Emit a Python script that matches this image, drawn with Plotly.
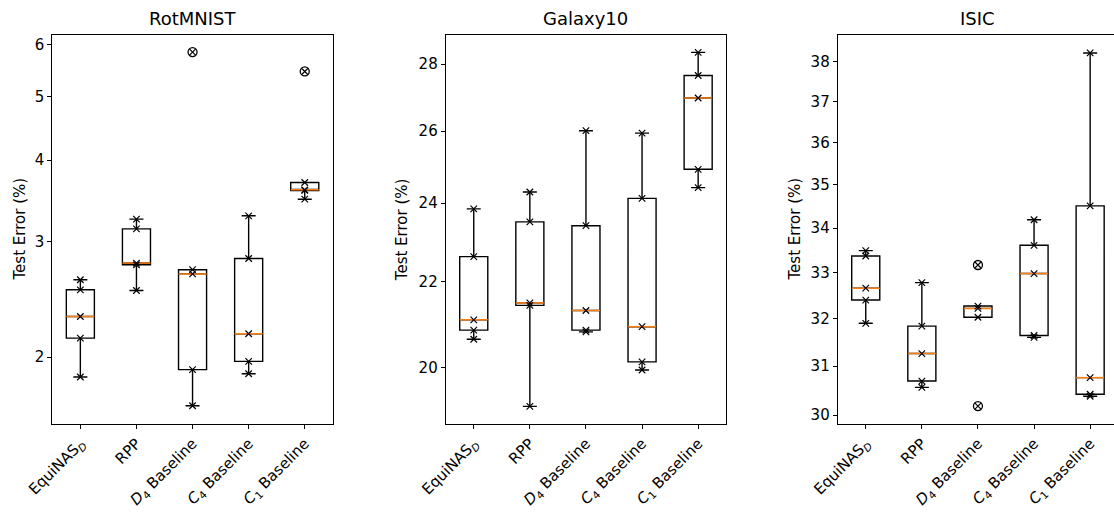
import numpy as np
import plotly.graph_objects as go

W, H = 1114, 514

categories = ["EquiNAS<sub><i>D</i></sub>", "RPP", "<i>D</i><sub>4</sub> Baseline",
              "<i>C</i><sub>4</sub> Baseline", "<i>C</i><sub>1</sub> Baseline"]
positions = [1, 2, 3, 4, 5]

titles = ["RotMNIST", "Galaxy10", "ISIC"]

# Test error (%) per method, 5 runs each
rotmnist = [
    [2.625, 2.534, 2.307, 2.138, 1.864],
    [3.25, 3.14, 2.784, 2.767, 2.528],
    [5.85, 2.72, 2.68, 1.913, 1.685],
    [3.288, 2.829, 2.171, 1.970, 1.886],
    [5.465, 3.697, 3.603, 3.595, 3.486],
]
galaxy10 = [
    [23.85, 22.62, 21.09, 20.85, 20.64],
    [24.30, 23.51, 21.49, 21.43, 19.16],
    [26.01, 23.41, 21.31, 20.85, 20.81],
    [25.94, 24.13, 20.93, 20.13, 19.95],
    [28.37, 27.65, 26.97, 24.92, 24.42],
]
isic = [
    [33.49, 33.37, 32.66, 32.40, 31.90],
    [32.78, 31.84, 31.26, 30.69, 30.56],
    [33.17, 32.27, 32.22, 32.03, 30.18],
    [34.19, 33.61, 32.98, 31.64, 31.60],
    [38.23, 34.51, 30.76, 30.42, 30.38],
]
datasets = [rotmnist, galaxy10, isic]

yticks = [[2, 3, 4, 5, 6], [20, 22, 24, 26, 28], [30, 31, 32, 33, 34, 35, 36, 37, 38]]
yranges = [[1.58, 6.22], [18.79, 28.93], [29.82, 38.70]]

# layout geometry (pixels)
x_dom_px = [(52.3, 333.0), (445.7, 726.0), (837.7, 1114.0)]
y_top_px, y_bot_px = 34.7, 424.0
unit_px = 56.1  # pixels per x unit

FONT = "DejaVu Sans"
BLACK = "black"
ORANGE = "#ff7f0e"

fig = go.Figure()


def stats(vals):
    v = np.asarray(vals, dtype=float)
    q1, med, q3 = np.percentile(v, [25, 50, 75])
    iqr = q3 - q1
    lo_lim, hi_lim = q1 - 1.5 * iqr, q3 + 1.5 * iqr
    inside = v[(v >= lo_lim) & (v <= hi_lim)]
    lf, uf = inside.min(), inside.max()
    out = v[(v < lo_lim) | (v > hi_lim)]
    return q1, med, q3, lf, uf, out


for k, data in enumerate(datasets):
    ax = "" if k == 0 else str(k + 1)
    xa, ya = "x" + ax, "y" + ax
    S = [stats(d) for d in data]
    fig.add_trace(go.Box(
        x=positions, q1=[s[0] for s in S], median=[s[1] for s in S], q3=[s[2] for s in S],
        lowerfence=[s[3] for s in S], upperfence=[s[4] for s in S],
        width=0.5, whiskerwidth=0.5, boxpoints=False,
        line=dict(color=BLACK, width=1.4), fillcolor="rgba(0,0,0,0)",
        xaxis=xa, yaxis=ya, hoverinfo="skip",
    ))
    # orange median lines
    mx, my = [], []
    for p, s in zip(positions, S):
        mx += [p - 0.25, p + 0.25, None]
        my += [s[1], s[1], None]
    fig.add_trace(go.Scatter(x=mx, y=my, mode="lines", line=dict(color=ORANGE, width=1.5),
                             xaxis=xa, yaxis=ya, hoverinfo="skip"))
    # outlier circles
    ox, oy = [], []
    for p, s in zip(positions, S):
        for o in s[5]:
            ox.append(p)
            oy.append(o)
    fig.add_trace(go.Scatter(x=ox, y=oy, mode="markers",
                             marker=dict(symbol="circle-open", size=9, color=BLACK,
                                         line=dict(color=BLACK, width=1.3)),
                             xaxis=xa, yaxis=ya, hoverinfo="skip"))
    # individual runs as x markers
    px_, py_ = [], []
    for p, d in zip(positions, data):
        px_ += [p] * len(d)
        py_ += list(d)
    fig.add_trace(go.Scatter(x=px_, y=py_, mode="markers",
                             marker=dict(symbol="x-thin", size=6.5, color=BLACK,
                                         line=dict(color=BLACK, width=1.2)),
                             xaxis=xa, yaxis=ya, hoverinfo="skip"))

    x0, x1 = x_dom_px[k]
    xr_hi = 0.5 + (x1 - x0) / unit_px
    fig.layout["xaxis" + ax] = dict(
        domain=[x0 / W, x1 / W], anchor=ya, range=[0.5, xr_hi], automargin=False,
        tickmode="array", tickvals=positions, ticktext=categories, tickangle=-45,
        ticks="outside", ticklen=4, tickwidth=1, tickcolor=BLACK,
        showline=True, linecolor=BLACK, linewidth=1, mirror=True,
        showgrid=False, zeroline=False,
        tickfont=dict(family=FONT, size=15, color=BLACK),
    )
    fig.layout["yaxis" + ax] = dict(
        domain=[1 - y_bot_px / H, 1 - y_top_px / H], anchor=xa, type="log", automargin=False,
        range=[np.log10(yranges[k][0]), np.log10(yranges[k][1])],
        tickmode="array", tickvals=yticks[k], ticktext=[str(t) for t in yticks[k]],
        ticks="outside", ticklen=4, tickwidth=1, tickcolor=BLACK,
        showline=True, linecolor=BLACK, linewidth=1, mirror=(k != 2),
        showgrid=False, zeroline=False,
        tickfont=dict(family=FONT, size=15, color=BLACK),
    )
    # title
    fig.add_annotation(text=titles[k], x=((x0 + (x0 + 5 * unit_px)) / 2) / W, y=1 - 18.5 / H,
                       xref="paper", yref="paper", xanchor="center", yanchor="middle",
                       showarrow=False, font=dict(family=FONT, size=18, color=BLACK))
    # y label
    lab_x = [20.0, 402.7, 795.0][k]
    fig.add_annotation(text="Test Error (%)", x=lab_x / W, y=1 - 229.5 / H,
                       xref="paper", yref="paper", xanchor="center", yanchor="middle",
                       textangle=-90, showarrow=False,
                       font=dict(family=FONT, size=15, color=BLACK))

fig.update_layout(width=W, height=H, margin=dict(l=0, r=0, t=0, b=0, autoexpand=False),
                  paper_bgcolor="white", plot_bgcolor="white", showlegend=False)

fig.write_html("out.html", config={"displayModeBar": False},
               post_script="document.body.style.margin='0';document.body.style.overflow='hidden';")
